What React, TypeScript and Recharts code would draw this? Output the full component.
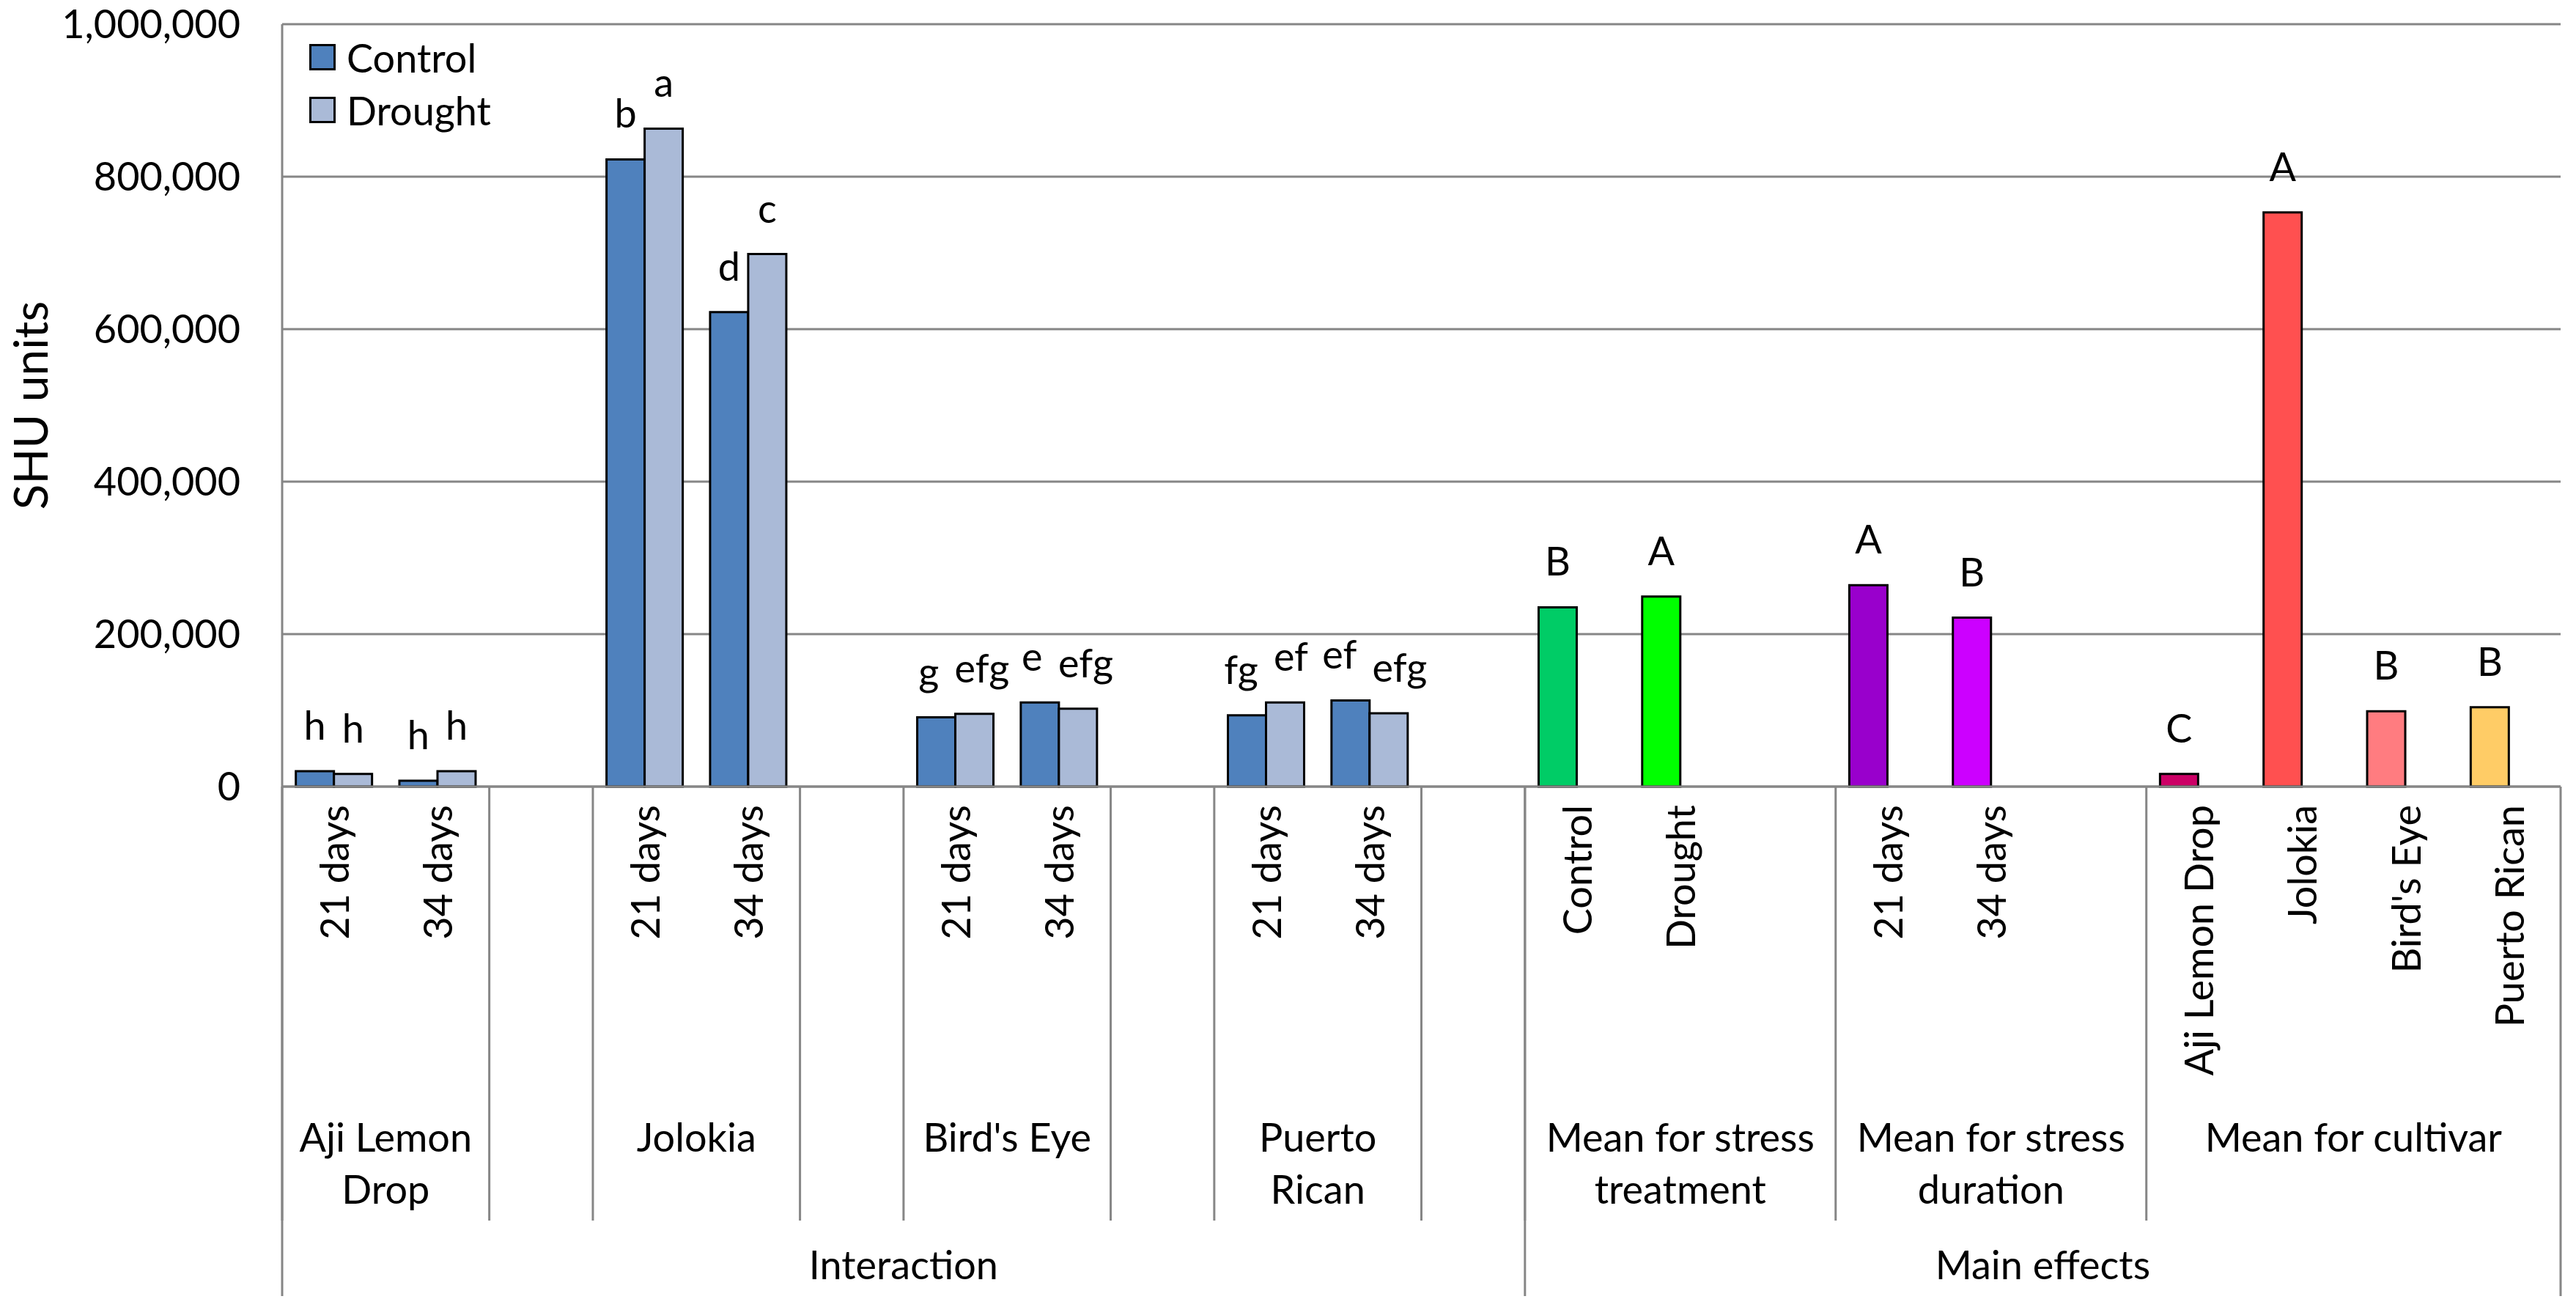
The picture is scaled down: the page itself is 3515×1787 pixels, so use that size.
import React from "react";
import { BarChart, Bar, XAxis, YAxis, CartesianGrid, Cell, LabelList, Legend, Label } from "recharts";

const W = 3515;
const H = 1787;
const FONT = "Lato, 'Open Sans', sans-serif";
const Y_AXIS_W = 385;
const MARGIN = { top: 33, right: 21, bottom: 0, left: 0 };
const GRID = "#868686";
const LETTER_SIZE = 54;

// categories (one slot each, blanks are spacer slots)
const categories = [
  "ald-21", "ald-34", "ald-gap", "jol-21", "jol-34", "jol-gap",
  "be-21", "be-34", "be-gap", "pr-21", "pr-34", "pr-gap",
  "st-control", "st-drought", "st-gap", "sd-21", "sd-34", "sd-gap",
  "cv-ald", "cv-jol", "cv-be", "cv-pr",
];
const tickLabels = [
  "21 days", "34 days", "", "21 days", "34 days", "",
  "21 days", "34 days", "", "21 days", "34 days", "",
  "Control", "Drought", "", "21 days", "34 days", "",
  "Aji Lemon Drop", "Jolokia", "Bird's Eye", "Puerto Rican",
];
const controlValues = [
  20200, 7700, null, 822600, 622300, null,
  90800, 110300, null, 93500, 113000, null,
  235100, 249300, null, 264100, 221600, null,
  16600, 753200, 98800, 104200,
];
const droughtValues = [
  16600, 20200, null, 863100, 698500, null,
  95500, 102200, null, 110300, 96100, null,
  null, null, null, null, null, null,
  null, null, null, null,
];
const controlLetters = [
  "h", "h", "", "b", "d", "",
  "g", "e", "", "fg", "ef", "",
  "B", "A", "", "A", "B", "",
  "C", "A", "B", "B",
];
const droughtLetters = [
  "h", "h", "", "a", "c", "",
  "efg", "efg", "", "ef", "efg", "",
  "", "", "", "", "", "",
  "", "", "", "",
];
const groupLabels = [
  ["Aji Lemon", "Drop"], [], ["Jolokia"], [], ["Bird's Eye"], [], ["Puerto", "Rican"], [],
  ["Mean for stress", "treatment"], ["Mean for stress", "duration"], ["Mean for cultivar"],
];
const groupSpans = [2, 1, 2, 1, 2, 1, 2, 1, 3, 3, 4];
const sectionLabels = ["Interaction", "Main effects"];
const sectionSpans = [12, 10];
const yTicks = [0, 200000, 400000, 600000, 800000, 1000000];

const CONTROL = "#4F81BD";
const DROUGHT = "#AABAD7";
const controlFills = [
  CONTROL, CONTROL, CONTROL, CONTROL, CONTROL, CONTROL,
  CONTROL, CONTROL, CONTROL, CONTROL, CONTROL, CONTROL,
  "#00CC66", "#00FF00", CONTROL, "#9900CC", "#CC00FF", CONTROL,
  "#CC0066", "#FF5050", "#FF7C80", "#FFCC66",
];

const data = categories.map((cat, i) => ({
  cat,
  control: controlValues[i],
  drought: droughtValues[i],
  controlSig: controlLetters[i],
  droughtSig: droughtLetters[i],
}));

const N = categories.length;
const PLOT_LEFT = MARGIN.left + Y_AXIS_W;
const BAND = (W - PLOT_LEFT - MARGIN.right) / N;

const starts = (spans: number[]) => {
  const out: number[] = [];
  let acc = 0;
  spans.forEach((s) => { out.push(acc); acc += s; });
  return out;
};
const groupStarts = starts(groupSpans);
const sectionStarts = starts(sectionSpans);

const textStyle = { fontFamily: FONT, fontSize: 54, fill: "#000" };

function CategoryTick(props: any) {
  const { x, y, index } = props;
  const left = x - BAND / 2;
  const out: React.ReactNode[] = [];
  const ly = y + 25;
  if (tickLabels[index]) {
    out.push(
      <text key="t" x={x} y={ly} transform={`rotate(-90 ${x} ${ly})`} textAnchor="end"
        dominantBaseline="central" {...textStyle}>{tickLabels[index]}</text>
    );
  }
  const g = groupStarts.indexOf(index);
  if (g >= 0) {
    out.push(<line key="gl" x1={left} x2={left} y1={y} y2={y + 592} stroke={GRID} strokeWidth={3} />);
    const cx = left + (groupSpans[g] * BAND) / 2;
    groupLabels[g].forEach((t, k) => {
      out.push(<text key={"g" + k} x={cx} y={y + 498 + k * 71} textAnchor="middle" {...textStyle}>{t}</text>);
    });
  }
  const s = sectionStarts.indexOf(index);
  if (s >= 0) {
    out.push(<line key="sl" x1={left} x2={left} y1={y} y2={y + 695} stroke={GRID} strokeWidth={3} />);
    const cx = left + (sectionSpans[s] * BAND) / 2;
    out.push(<text key="st" x={cx} y={y + 672} textAnchor="middle" {...textStyle}>{sectionLabels[s]}</text>);
  }
  if (index === N - 1) {
    const r = x + BAND / 2;
    out.push(<line key="rl" x1={r} x2={r} y1={y} y2={y + 695} stroke={GRID} strokeWidth={3} />);
  }
  return <g>{out}</g>;
}

// push paired letters apart when they would run into each other
const CHAR_W: Record<string, number> = { e: 0.53, f: 0.33, g: 0.51, h: 0.56, a: 0.5, b: 0.56, c: 0.46, d: 0.56 };
function spread(a: string, b: string, barW: number) {
  if (!a || !b) return 0;
  const est = (t: string) => t.split("").reduce((s, ch) => s + (CHAR_W[ch] || 0.55), 0) * LETTER_SIZE;
  return Math.max(0, (est(a) + est(b)) / 2 + 22 - barW) / 2;
}

function makeSigLabel(own: string[], other: string[], dir: number) {
  return function SigLabel(props: any) {
    const { x, y, width, value } = props;
    if (!value || x == null || y == null) return null;
    const w = Number(width);
    const cx = Number(x) + w / 2;
    const idx = Math.floor((cx - PLOT_LEFT) / BAND);
    const dx = dir * spread(own[idx], other[idx], w);
    return (
      <text x={cx + dx} y={Number(y) - 43} textAnchor="middle" {...textStyle}>{value}</text>
    );
  };
}
const ControlSig = makeSigLabel(controlLetters, droughtLetters, -1);
const DroughtSig = makeSigLabel(droughtLetters, controlLetters, 1);

function LegendContent(props: any) {
  const items = props.payload || [];
  return (
    <div style={{ fontFamily: FONT, fontSize: 54, color: "#000" }}>
      {items.map((p: any, i: number) => (
        <div key={i} style={{ display: "flex", alignItems: "center", height: 72, whiteSpace: "nowrap" }}>
          <span style={{ display: "inline-block", boxSizing: "border-box", width: 36, height: 36,
            background: p.value === "Drought" ? DROUGHT : CONTROL, border: "3px solid #000" }} />
          <span style={{ marginLeft: 15 }}>{p.value}</span>
        </div>
      ))}
    </div>
  );
}

function AxisTitle(props: any) {
  const vb = props.viewBox || { x: 0, y: MARGIN.top, width: Y_AXIS_W, height: 1040 };
  const cx = vb.x + 40;
  const cy = vb.y + vb.height / 2;
  return (
    <text x={cx} y={cy} transform={`rotate(-90 ${cx} ${cy})`} textAnchor="middle"
      dominantBaseline="central" fontFamily={FONT} fontSize={64} fill="#000">SHU units</text>
  );
}

export default function App() {
  return (
    <div style={{ position: "absolute", left: 0, top: 0, width: W, height: H, background: "#fff" }}>
      <BarChart width={W} height={H} data={data} margin={MARGIN} barCategoryGap="13.2%" barGap={0}>
        <CartesianGrid vertical={false} stroke={GRID} strokeWidth={3} />
        <XAxis dataKey="cat" interval={0} height={714} tickLine={false} tickSize={0} tickMargin={0}
          axisLine={{ stroke: GRID, strokeWidth: 3 }} tick={<CategoryTick />} />
        <YAxis width={Y_AXIS_W} domain={[0, 1000000]} ticks={yTicks} interval={0}
          tickFormatter={(v: number) => v.toLocaleString("en-US")}
          tickLine={false} tickSize={0} tickMargin={57}
          axisLine={{ stroke: GRID, strokeWidth: 3 }}
          tick={{ fill: "#000", fontSize: 54, fontFamily: FONT }}
          label={<Label content={<AxisTitle />} />} />
        <Legend layout="horizontal" verticalAlign="middle" align="center"
          wrapperStyle={{ left: 422, top: 42, width: "auto", height: "auto" }}
          content={<LegendContent />} />
        <Bar dataKey="control" name="Control" fill={CONTROL} stroke="#000" strokeWidth={3} isAnimationActive={false}>
          {data.map((d, i) => <Cell key={d.cat} fill={controlFills[i]} />)}
          <LabelList dataKey="controlSig" content={<ControlSig />} />
        </Bar>
        <Bar dataKey="drought" name="Drought" fill={DROUGHT} stroke="#000" strokeWidth={3} isAnimationActive={false}>
          <LabelList dataKey="droughtSig" content={<DroughtSig />} />
        </Bar>
      </BarChart>
    </div>
  );
}
